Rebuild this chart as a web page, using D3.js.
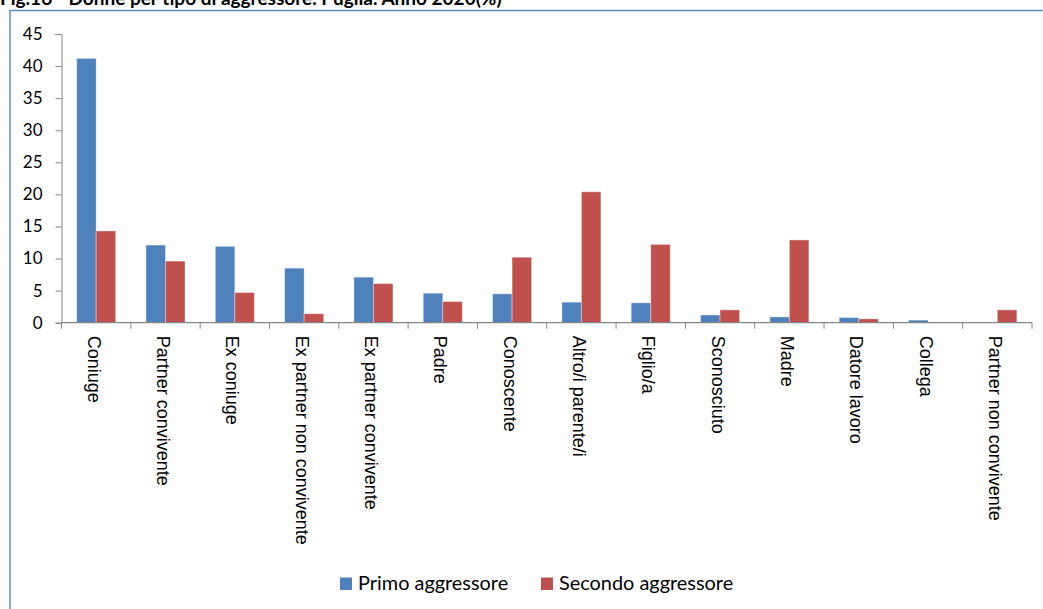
<!DOCTYPE html>
<html>
<head>
<meta charset="utf-8">
<script src="https://cdn.jsdelivr.net/npm/d3@7"></script>
<style>
  html, body { margin: 0; padding: 0; background: #fff; }
  svg { display: block; }
</style>
</head>
<body>
<svg id="chart" width="1043" height="609"></svg>
<script>
// Categories of aggressor and the share (%) for first and second aggressor
const categories = [
  "Coniuge", "Partner convivente", "Ex coniuge", "Ex partner non convivente",
  "Ex partner convivente", "Padre", "Conoscente", "Altro/i parente/i",
  "Figlio/a", "Sconosciuto", "Madre", "Datore lavoro", "Collega",
  "Partner non convivente"
];
const primoAggressore = [41.2, 12.1, 11.9, 8.5, 7.1, 4.6, 4.5, 3.2, 3.1, 1.2, 0.9, 0.8, 0.4, 0];
const secondoAggressore = [14.3, 9.6, 4.7, 1.4, 6.1, 3.3, 10.2, 20.4, 12.2, 2.0, 12.9, 0.6, 0, 2.0];
const seriesNames = ["Primo aggressore", "Secondo aggressore"];
const seriesColors = ["#4F81BD", "#C0504D"];
const yTicks = [0, 5, 10, 15, 20, 25, 30, 35, 40, 45];
const title = "Fig.16 - Donne per tipo di aggressore. Puglia. Anno 2020(%)";

const rows = categories.map((c, i) => ({
  category: c,
  values: [primoAggressore[i], secondoAggressore[i]]
}));

const svg = d3.select("#chart");
const axisColor = "#868686";
const calibriLike = "Lato, 'Open Sans', sans-serif";

// Title, partly above the top edge of the page
svg.append("text")
  .attr("x", 0).attr("y", 5)
  .attr("font-family", calibriLike)
  .attr("font-weight", "bold")
  .attr("font-size", 19)
  .attr("fill", "#000")
  .text(title);

// Chart area frame (only left and top edges fall inside the page)
svg.append("path")
  .attr("d", "M10,609 L10,10.5 L1043,10.5")
  .attr("fill", "none")
  .attr("stroke", "#5B8CCB")
  .attr("stroke-width", 1.5);

const plot = { left: 61.5, right: 1032, top: 34, bottom: 322.7 };

const x0 = d3.scaleBand()
  .domain(categories)
  .range([plot.left, plot.right])
  .paddingInner(0).paddingOuter(0);

const x1 = d3.scaleBand()
  .domain([0, 1])
  .range([0, x0.bandwidth()])
  .paddingInner(0)
  .paddingOuter(0.778);

const y = d3.scaleLinear()
  .domain([0, 45])
  .range([plot.bottom, plot.top]);

// Bars
const groups = svg.append("g").selectAll("g")
  .data(rows)
  .join("g")
  .attr("transform", d => `translate(${x0(d.category)},0)`);

groups.selectAll("rect")
  .data(d => d.values.map((v, i) => ({ v, i })))
  .join("rect")
  .attr("x", d => x1(d.i))
  .attr("y", d => y(d.v))
  .attr("width", x1.bandwidth())
  .attr("height", d => y(0) - y(d.v))
  .attr("fill", d => seriesColors[d.i])
  .attr("stroke", "rgba(255,255,255,0.35)")
  .attr("stroke-width", 1);

// Y axis
const yAxis = d3.axisLeft(y)
  .tickValues(yTicks)
  .tickSize(6)
  .tickPadding(13);
const gy = svg.append("g")
  .attr("transform", `translate(${plot.left},0)`)
  .call(yAxis);
gy.select(".domain").attr("stroke", axisColor);
gy.selectAll(".tick line").attr("stroke", axisColor);
gy.selectAll(".tick text")
  .attr("font-family", calibriLike)
  .attr("font-size", 17)
  .attr("fill", "#000");

// X axis: ticks at category boundaries
const boundaries = categories.map(c => x0(c)).concat([plot.right]);
const gx = svg.append("g");
gx.append("line")
  .attr("x1", plot.left).attr("x2", plot.right)
  .attr("y1", y(0)).attr("y2", y(0))
  .attr("stroke", axisColor).attr("stroke-width", 1.2);
gx.selectAll("line.tk")
  .data(boundaries)
  .join("line")
  .attr("class", "tk")
  .attr("x1", d => d).attr("x2", d => d)
  .attr("y1", y(0)).attr("y2", y(0) + 6)
  .attr("stroke", axisColor);

// Rotated category labels, reading top to bottom
gx.selectAll("text")
  .data(categories)
  .join("text")
  .attr("transform", c => `translate(${x0(c) + x0.bandwidth() / 2 - 2},${plot.bottom + 13}) rotate(90)`)
  .attr("dy", "0.35em")
  .attr("text-anchor", "start")
  .attr("font-family", "'Liberation Sans', Arial, sans-serif")
  .attr("font-size", 18)
  .attr("fill", "#000")
  .text(c => c);

// Legend
const legendItems = [
  { name: seriesNames[0], color: seriesColors[0], x: 340 },
  { name: seriesNames[1], color: seriesColors[1], x: 541 }
];
const legend = svg.append("g");
legend.selectAll("rect")
  .data(legendItems)
  .join("rect")
  .attr("x", d => d.x).attr("y", 577.5)
  .attr("width", 12).attr("height", 12.5)
  .attr("fill", d => d.color);
legend.selectAll("text")
  .data(legendItems)
  .join("text")
  .attr("x", d => d.x + 18).attr("y", 590)
  .attr("font-family", calibriLike)
  .attr("font-size", 19.9)
  .attr("fill", "#000")
  .text(d => d.name);
</script>
</body>
</html>
